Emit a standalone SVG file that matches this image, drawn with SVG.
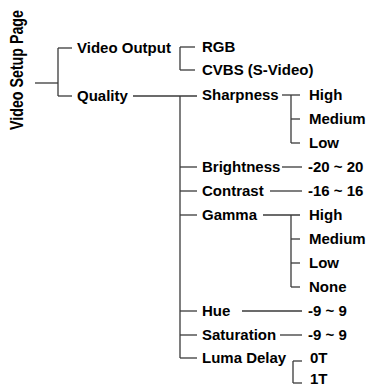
<svg xmlns="http://www.w3.org/2000/svg" width="374" height="386" viewBox="0 0 374 386">
<style>
text{font-family:"Liberation Sans",Arial,sans-serif;font-weight:bold;font-size:15px;fill:#000}
text.title{font-size:18px}
.c line{stroke:#3a3a3a;stroke-width:1.3;fill:none}
</style>
<rect width="374" height="386" fill="#fff"/>
<g class="c" id="connectors">
<line x1="35" y1="83" x2="58" y2="83"/>
<line x1="58" y1="48" x2="58" y2="96"/>
<line x1="58" y1="48" x2="72" y2="48"/>
<line x1="58" y1="96" x2="72" y2="96"/>
<line x1="180" y1="47" x2="180" y2="70"/>
<line x1="180" y1="47" x2="195" y2="47"/>
<line x1="180" y1="70" x2="195" y2="70"/>
<line x1="133" y1="96" x2="197" y2="96"/>
<line x1="180" y1="96" x2="180" y2="358"/>
<line x1="180" y1="167" x2="197" y2="167"/>
<line x1="180" y1="191" x2="197" y2="191"/>
<line x1="180" y1="215" x2="197" y2="215"/>
<line x1="180" y1="311" x2="197" y2="311"/>
<line x1="180" y1="335" x2="197" y2="335"/>
<line x1="180" y1="358" x2="197" y2="358"/>
<line x1="282" y1="95" x2="300" y2="95"/>
<line x1="291" y1="95" x2="291" y2="143"/>
<line x1="291" y1="119" x2="300" y2="119"/>
<line x1="291" y1="143" x2="300" y2="143"/>
<line x1="282" y1="167" x2="302" y2="167"/>
<line x1="270" y1="191" x2="302" y2="191"/>
<line x1="263" y1="215" x2="300" y2="215"/>
<line x1="291" y1="215" x2="291" y2="287"/>
<line x1="291" y1="239" x2="300" y2="239"/>
<line x1="291" y1="263" x2="300" y2="263"/>
<line x1="291" y1="287" x2="300" y2="287"/>
<line x1="242" y1="311" x2="302" y2="311"/>
<line x1="280" y1="335" x2="302" y2="335"/>
<line x1="293" y1="361" x2="302" y2="361"/>
<line x1="293" y1="361" x2="293" y2="383"/>
<line x1="293" y1="383" x2="302" y2="383"/>
</g>
<g id="root"><text class="title" transform="translate(23,70) rotate(-90) scale(0.79,1)" text-anchor="middle">Video Setup Page</text></g>
<g id="video-output"><text x="77" y="53">Video Output</text></g>
<g id="rgb"><text x="202" y="52">RGB</text></g>
<g id="cvbs"><text x="202" y="75">CVBS (S-Video)</text></g>
<g id="quality"><text x="77" y="101">Quality</text></g>
<g id="sharpness"><text x="202" y="100">Sharpness</text></g>
<g id="sh-high"><text x="309" y="100">High</text></g>
<g id="sh-medium"><text x="309" y="124">Medium</text></g>
<g id="sh-low"><text x="309" y="148">Low</text></g>
<g id="brightness"><text x="202" y="172">Brightness</text></g>
<g id="br-val"><text x="308" y="172">-20 ~ 20</text></g>
<g id="contrast"><text x="202" y="196">Contrast</text></g>
<g id="co-val"><text x="308" y="196">-16 ~ 16</text></g>
<g id="gamma"><text x="202" y="220">Gamma</text></g>
<g id="ga-high"><text x="309" y="220">High</text></g>
<g id="ga-medium"><text x="309" y="244">Medium</text></g>
<g id="ga-low"><text x="309" y="268">Low</text></g>
<g id="ga-none"><text x="309" y="292">None</text></g>
<g id="hue"><text x="202" y="316">Hue</text></g>
<g id="hue-val"><text x="308" y="316">-9 ~ 9</text></g>
<g id="saturation"><text x="202" y="340">Saturation</text></g>
<g id="sa-val"><text x="308" y="340">-9 ~ 9</text></g>
<g id="luma"><text x="202" y="363">Luma Delay</text></g>
<g id="l0"><text x="310" y="363">0T</text></g>
<g id="l1"><text x="310" y="384">1T</text></g>
</svg>
